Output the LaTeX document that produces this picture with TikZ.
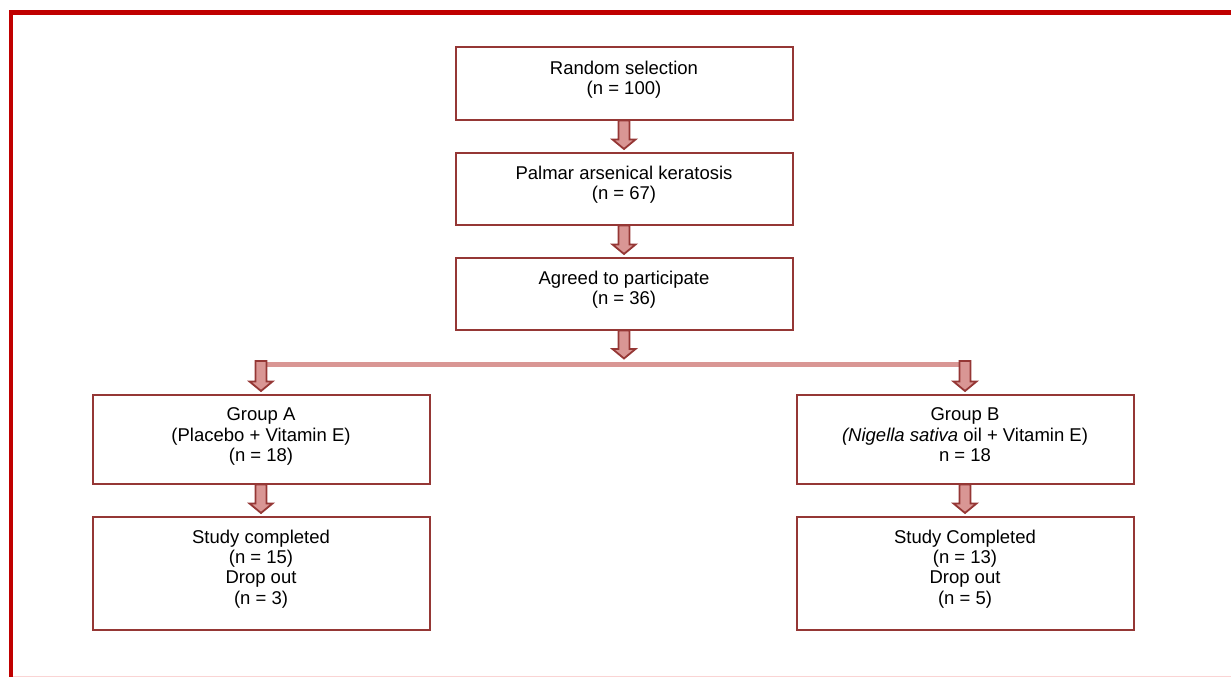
\documentclass[tikz,border=0pt]{standalone}
\usepackage{fontspec}
\setmainfont{Liberation Sans}
\usetikzlibrary{calc}
\definecolor{boxline}{RGB}{149,55,53}
\definecolor{arrfill}{RGB}{217,150,148}
\definecolor{barcol}{RGB}{217,150,148}
\definecolor{framered}{RGB}{192,0,0}
\definecolor{faintpink}{RGB}{250,212,212}
\begin{document}
\begin{tikzpicture}[x=1pt,y=-1pt,
  box/.style={draw=boxline, line width=2pt, fill=white, minimum width=337pt, inner sep=0pt},
  txt/.style={align=center, inner sep=0pt, font=\fontsize{18.5}{20.4}\selectfont, anchor=north},
  blockarrow/.style={draw=boxline, fill=arrfill, line width=1.8pt, line join=miter,
    to path={($(\tikztostart)+(-5.5,0)$) -- ($(\tikztotarget)+(-5.5,-12)$) -- ($(\tikztotarget)+(-11.5,-12)$)
      -- ($(\tikztotarget)+(0,-2.5)$) -- ($(\tikztotarget)+(11.5,-12)$) -- ($(\tikztotarget)+(5.5,-12)$)
      -- ($(\tikztostart)+(5.5,0)$) -- cycle}},
  barline/.style={draw=barcol, line width=5pt}
]
\useasboundingbox (0,0) rectangle (1231,677);
% frame
\draw[framered, line width=4.5pt, line join=miter] (11,680) -- (11,12.5) -- (1235,12.5);
\draw[faintpink, line width=1pt] (13,676.5) -- (1231,676.5);

% boxes
\node[box, minimum height=72pt] (b1) at (624,83.5) {};
\node[box, minimum height=72pt] (b2) at (624,188.5) {};
\node[box, minimum height=72pt] (b3) at (624,293.5) {};
\node[box, minimum height=89pt] (gA) at (261,439) {};
\node[box, minimum height=89pt] (gB) at (965,439) {};
\node[box, minimum height=113pt] (sA) at (261,573) {};
\node[box, minimum height=113pt] (sB) at (965,573) {};

% texts
\node[txt] (t1) at ([yshift=-14pt]b1.north) {Random selection\\(n = 100)};
\node[txt] (t2) at ([yshift=-14pt]b2.north) {Palmar arsenical keratosis\\(n = 67)};
\node[txt] (t3) at ([yshift=-14pt]b3.north) {Agreed to participate\\(n = 36)};
\node[txt] (tA) at ([yshift=-14pt]gA.north) {Group A\\(Placebo + Vitamin E)\\(n = 18)};
\node[txt] (tB) at ([yshift=-14pt]gB.north) {Group B\\\textit{(Nigella sativa} oil + Vitamin E)\\n = 18};
\node[txt] (tSA) at ([yshift=-14pt]sA.north) {Study completed\\(n = 15)\\Drop out\\(n = 3)};
\node[txt] (tSB) at ([yshift=-14pt]sB.north) {Study Completed\\(n = 13)\\Drop out\\(n = 5)};

% split bar
\coordinate (barC) at (624,361);
\coordinate (barL) at (gA.north |- barC);
\coordinate (barR) at (gB.north |- barC);
\draw[barline] ($(barL)+(-6,3.5)$) -- ($(barR)+(6,3.5)$);

% arrows
\draw[blockarrow] (b1.south) to (b2.north);
\draw[blockarrow] (b2.south) to (b3.north);
\draw[blockarrow] (b3.south) to (barC);
\draw[blockarrow] (barL) to (gA.north);
\draw[blockarrow] (barR) to (gB.north);
\draw[blockarrow] (gA.south) to (sA.north);
\draw[blockarrow] (gB.south) to (sB.north);
\end{tikzpicture}
\end{document}
